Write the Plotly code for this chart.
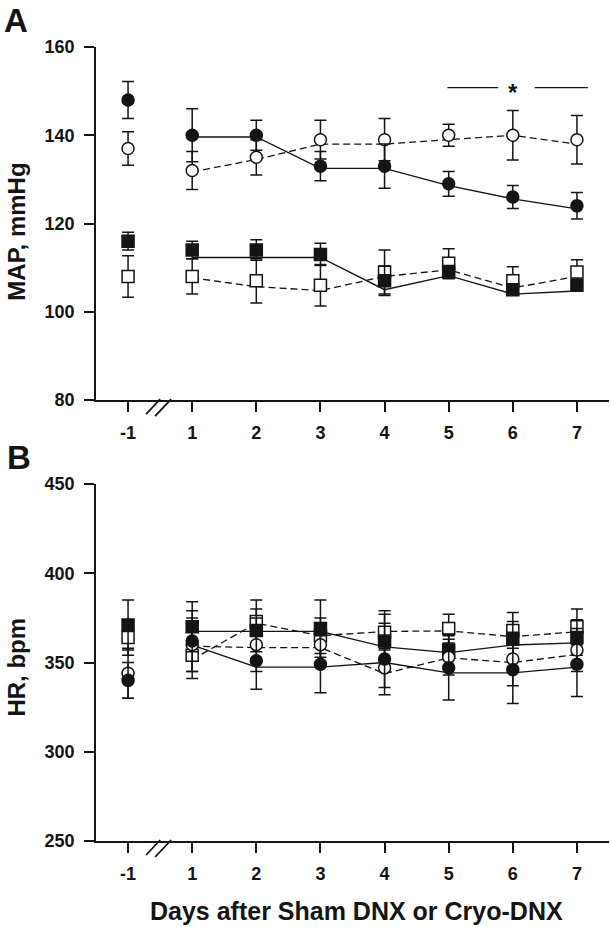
import plotly.graph_objects as go

# ---------------- data ----------------
days = ["-1", "1", "2", "3", "4", "5", "6", "7"]
post_days = days[1:]

# Panel A: MAP, mmHg (mean, SEM)
map_filled_circle = [148, 140, 140, 133, 133, 129, 126, 124]
map_filled_circle_sem = [4.2, 6, 3.4, 3.3, 5, 2.8, 2.6, 3]
map_open_circle = [137, 132, 135, 139, 139, 140, 140, 139]
map_open_circle_sem = [3.8, 4.3, 4, 4.4, 4.8, 2.5, 5.6, 5.5]
map_filled_square = [116, 114, 114, 113, 107, 109, 105, 106]
map_filled_square_sem = [2, 2, 2.3, 2.5, 3.3, 1.5, 1, 1]
map_open_square = [108, 108, 107, 106, 109, 111, 107, 109]
map_open_square_sem = [4.7, 4, 5, 4.7, 5, 3.3, 3.2, 2.8]

# connecting lines (days 1-7)
map_filled_circle_line = [139.6, 139.6, 132.5, 132.5, 128.6, 125.6, 123.3]
map_open_circle_line = [131.7, 134.5, 138, 138, 139, 140, 138]
map_filled_square_line = [112.3, 112.3, 112.3, 105, 108.2, 104, 104.7]
map_open_square_line = [107.7, 105.7, 104.8, 108, 109.5, 105.4, 108]

# Panel B: HR, bpm (mean, SEM)
hr_filled_circle = [340, 362, 351, 349, 352, 347, 346, 349]
hr_filled_circle_sem = [10, 17, 16, 16, 20, 18, 19, 18]
hr_open_circle = [344, 360, 360, 360, 347, 353, 352, 357]
hr_open_circle_sem = [14, 15, 15, 12, 11, 10, 15, 12]
hr_filled_square = [371, 370, 368, 369, 362, 357, 363, 364]
hr_filled_square_sem = [14, 14, 12, 16, 17, 9, 10, 10]
hr_open_square = [364, 354, 373, 365, 367, 369, 368, 370]
hr_open_square_sem = [10, 13, 12, 10, 10, 8, 10, 10]

hr_filled_circle_line = [359.8, 347.4, 347.4, 350, 344.2, 344.2, 347.4]
hr_open_circle_line = [359.2, 358.3, 358.3, 343.8, 352.6, 350, 354.5]
hr_filled_square_line = [367.4, 367.4, 367.4, 358.7, 355.5, 359.8, 361]
hr_open_square_line = [351.7, 372, 365, 367.4, 367.7, 364.5, 367.2]

map_ticks = [80, 100, 120, 140, 160]
hr_ticks = [250, 300, 350, 400, 450]

INK = "#141414"
FONT = "Liberation Sans, Arial, sans-serif"

fig = go.Figure()


def add_panel(xa, ya, series, lines):
    for vals, dash in lines:
        fig.add_trace(go.Scatter(
            x=post_days, y=vals, mode="lines", xaxis=xa, yaxis=ya,
            line=dict(color=INK, width=1.3, dash=dash), showlegend=False,
            hoverinfo="skip"))
    for vals, sem, symbol, fill in series:
        fig.add_trace(go.Scatter(
            x=days, y=vals, mode="markers", xaxis=xa, yaxis=ya,
            error_y=dict(type="data", array=sem, color=INK, thickness=1.5, width=6),
            marker=dict(symbol=symbol, size=12, color=fill,
                        line=dict(color=INK, width=1.5)),
            showlegend=False))


DASH = "7px,4px"

add_panel("x", "y",
          [(map_open_square, map_open_square_sem, "square", "white"),
           (map_filled_square, map_filled_square_sem, "square", INK),
           (map_open_circle, map_open_circle_sem, "circle", "white"),
           (map_filled_circle, map_filled_circle_sem, "circle", INK)],
          [(map_open_circle_line, DASH), (map_open_square_line, DASH),
           (map_filled_circle_line, "solid"), (map_filled_square_line, "solid")])

add_panel("x2", "y2",
          [(hr_open_square, hr_open_square_sem, "square", "white"),
           (hr_filled_square, hr_filled_square_sem, "square", INK),
           (hr_open_circle, hr_open_circle_sem, "circle", "white"),
           (hr_filled_circle, hr_filled_circle_sem, "circle", INK)],
          [(hr_open_circle_line, DASH), (hr_open_square_line, DASH),
           (hr_filled_circle_line, "solid"), (hr_filled_square_line, "solid")])

xcommon = dict(type="category", categoryorder="array", categoryarray=days,
               range=[-0.5, 7.5], showline=True, linecolor=INK, linewidth=1.5,
               ticks="outside", ticklen=10, tickwidth=1.5, tickcolor=INK,
               showgrid=False, zeroline=False, ticklabelstandoff=6,
               tickfont=dict(family=FONT, size=18, color=INK, weight="bold"))
ycommon = dict(showline=True, linecolor=INK, linewidth=1.5,
               ticks="outside", ticklen=10, tickwidth=1.5, tickcolor=INK,
               showgrid=False, zeroline=False, ticklabelstandoff=6,
               tickfont=dict(family=FONT, size=18, color=INK, weight="bold"))

A_DOM = [0.5554, 1]
B_DOM = [0, 0.4496]

fig.update_layout(
    width=611, height=927,
    margin=dict(l=96, r=2, t=47, b=86),
    plot_bgcolor="white", paper_bgcolor="white",
    xaxis=dict(domain=[0, 1], anchor="y", **xcommon),
    yaxis=dict(domain=A_DOM, anchor="x", range=[80, 160],
               tickvals=map_ticks, **ycommon),
    xaxis2=dict(domain=[0, 1], anchor="y2", **xcommon),
    yaxis2=dict(domain=B_DOM, anchor="x2", range=[250, 450],
                tickvals=hr_ticks, **ycommon),
)

# axis break marks (drawn below each x axis at the gap between -1 and 1)
for xr, ybase in [("x", A_DOM[0]), ("x2", B_DOM[0])]:
    for (x0, y0, x1, y1) in [(-14, -14, 0, 1), (-5, -16, 11, 1)]:
        fig.add_shape(type="line", xref=xr, yref="paper",
                      xsizemode="pixel", ysizemode="pixel",
                      xanchor=0.5, yanchor=ybase,
                      x0=x0, y0=y0, x1=x1, y1=y1,
                      line=dict(color=INK, width=1.8))

# significance bar in panel A
fig.add_shape(type="line", xref="x", yref="y", x0=4.98, x1=5.77, y0=150.8, y1=150.8,
              line=dict(color=INK, width=1.3))
fig.add_shape(type="line", xref="x", yref="y", x0=6.34, x1=7.17, y0=150.8, y1=150.8,
              line=dict(color=INK, width=1.3))
fig.add_annotation(x=6, y=150.8, xref="x", yref="y", text="*", showarrow=False,
                   yshift=-5, font=dict(family=FONT, size=24, color=INK, weight="bold"))

# titles
ann = dict(showarrow=False, font=dict(family=FONT, size=24, color=INK, weight="bold"))
fig.add_annotation(text="MAP, mmHg", textangle=-90, xref="paper", yref="paper",
                   x=-0.155, xanchor="center", y=0.768, yanchor="middle", **ann)
fig.add_annotation(text="HR, bpm", textangle=-90, xref="paper", yref="paper",
                   x=-0.155, xanchor="center", y=0.219, yanchor="middle", **ann)
fig.add_annotation(text="Days after Sham DNX or Cryo-DNX", xref="paper", yref="paper",
                   x=0.507, xanchor="center", y=-0.088, yanchor="middle",
                   showarrow=False,
                   font=dict(family=FONT, size=25, color=INK, weight="bold"))
letter = dict(showarrow=False, font=dict(family=FONT, size=33, color=INK, weight="bold"))
fig.add_annotation(text="A", xref="paper", yref="paper", x=-0.183, xanchor="left",
                   y=1.033, yanchor="middle", **letter)
fig.add_annotation(text="B", xref="paper", yref="paper", x=-0.178, xanchor="left",
                   y=0.483, yanchor="middle", **letter)

fig.write_html("out.html",
               config={"displayModeBar": False},
               post_script="document.body.style.margin='0';"
                           "document.body.style.overflow='hidden';")
